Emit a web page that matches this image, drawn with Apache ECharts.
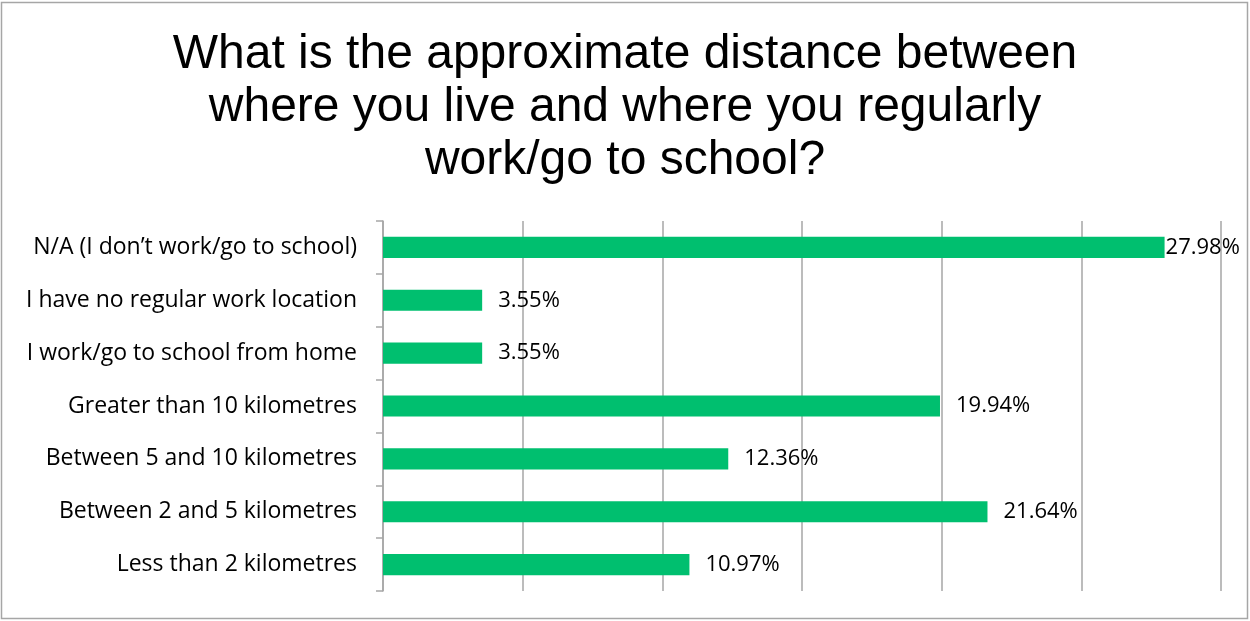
<!DOCTYPE html>
<html>
<head>
<meta charset="utf-8">
<script src="https://cdn.jsdelivr.net/npm/echarts@6/dist/echarts.min.js"></script>
<style>html,body{margin:0;padding:0;background:#fff;}#c{width:1250px;height:621px;}</style>
</head>
<body>
<div id="c"></div>
<script>
const categories = [
  "Less than 2 kilometres",
  "Between 2 and 5 kilometres",
  "Between 5 and 10 kilometres",
  "Greater than 10 kilometres",
  "I work/go to school from home",
  "I have no regular work location",
  "N/A (I don\u2019t work/go to school)"
];
const values = [10.97, 21.64, 12.36, 19.94, 3.55, 3.55, 27.98];
const titleLines = [
  "What is the approximate distance between",
  "where you live and where you regularly",
  "work/go to school?"
];

const chart = echarts.init(document.getElementById('c'));
const data = values.map(v => v >= 27 ? { value: v, label: { distance: 1 } } : v);
chart.setOption({
  animation: false,
  backgroundColor: '#ffffff',
  title: {
    text: titleLines.join('\n'),
    left: 'center',
    top: 23,
    textStyle: { fontFamily: 'Liberation Sans', fontSize: 48, fontWeight: 'normal', color: '#000', lineHeight: 53 }
  },
  graphic: [{
    type: 'rect', shape: { x: 1.5, y: 2.5, width: 1246, height: 616 },
    style: { fill: 'none', stroke: '#a6a6a6', lineWidth: 1.5 }, silent: true
  }],
  grid: { left: 383, right: 29, top: 221, bottom: 30, containLabel: false },
  xAxis: {
    type: 'value', min: 0, max: 30, interval: 5,
    axisLabel: { show: false }, axisLine: { show: false }, axisTick: { show: false },
    splitLine: { show: true, lineStyle: { color: '#a6a6a6', width: 1.5 } }
  },
  yAxis: {
    type: 'category', data: categories,
    axisLine: { show: true, lineStyle: { color: '#a6a6a6', width: 1.5 } },
    axisTick: { show: true, length: 7, lineStyle: { color: '#a6a6a6', width: 1.5 } },
    axisLabel: { fontFamily: 'Open Sans', fontSize: 23, color: '#000', margin: 26 }
  },
  series: [{
    type: 'bar', data: data, barWidth: '40%',
    itemStyle: { color: '#00bf6f' },
    label: {
      show: true, position: 'right', distance: 16,
      formatter: p => p.value.toFixed(2) + '%',
      fontFamily: 'Open Sans', fontSize: 22, color: '#000'
    }
  }]
});
</script>
</body>
</html>
